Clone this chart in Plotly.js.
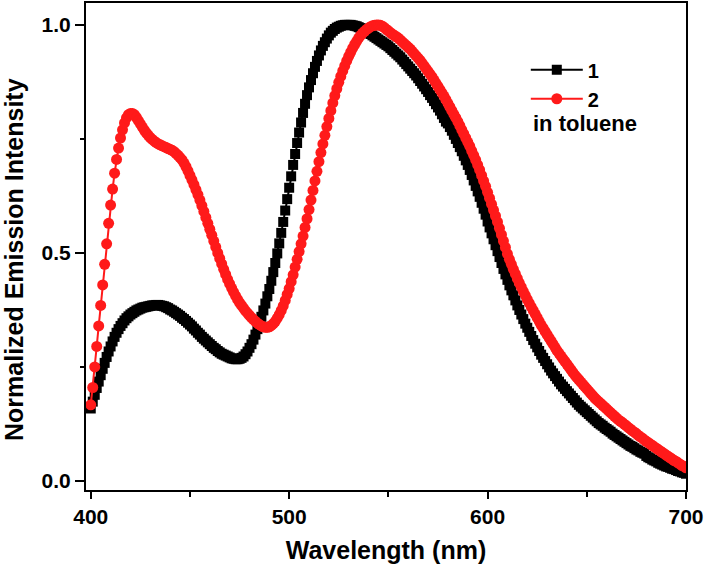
<!DOCTYPE html>
<html>
<head>
<meta charset="utf-8">
<script src="https://cdn.plot.ly/plotly-3.0.1.min.js"></script>
<style>html,body{margin:0;padding:0;background:#fff;}#chart{width:705px;height:570px;}</style>
</head>
<body>
<div id="chart"></div>
<script>
// Wavelength grid (nm), 1 nm sampling from 400 to 700
const wlStart = 400;
const wavelength = Array.from({length: 301}, (_, i) => wlStart + i);

// Series "1" (black squares), normalized emission intensity, 400..700 nm
const intensity1 = [
0.159,0.174,0.189,0.204,0.218,0.232,0.246,0.259,0.272,0.284,
0.295,0.306,0.316,0.325,0.333,0.340,0.346,0.352,0.357,0.361,
0.365,0.368,0.371,0.374,0.376,0.378,0.380,0.381,0.382,0.383,
0.384,0.385,0.385,0.386,0.386,0.385,0.384,0.383,0.381,0.379,
0.376,0.374,0.371,0.368,0.365,0.362,0.358,0.355,0.351,0.347,
0.343,0.339,0.334,0.330,0.325,0.321,0.316,0.312,0.308,0.304,
0.300,0.296,0.292,0.289,0.285,0.282,0.279,0.277,0.275,0.273,
0.271,0.269,0.268,0.267,0.267,0.268,0.270,0.273,0.278,0.284,
0.292,0.300,0.310,0.321,0.333,0.346,0.360,0.374,0.389,0.405,
0.421,0.439,0.458,0.478,0.499,0.521,0.544,0.568,0.593,0.618,
0.643,0.668,0.693,0.717,0.741,0.764,0.786,0.807,0.827,0.846,
0.863,0.879,0.894,0.908,0.921,0.933,0.944,0.954,0.962,0.970,
0.977,0.983,0.987,0.991,0.994,0.996,0.998,0.999,1.000,1.000,
1.000,1.000,0.999,0.998,0.997,0.995,0.993,0.991,0.988,0.985,
0.982,0.980,0.977,0.974,0.971,0.968,0.965,0.962,0.959,0.956,
0.953,0.949,0.945,0.941,0.937,0.933,0.929,0.924,0.919,0.914,
0.909,0.904,0.899,0.894,0.889,0.883,0.877,0.871,0.865,0.859,
0.853,0.846,0.840,0.833,0.826,0.819,0.812,0.804,0.796,0.788,
0.784,0.776,0.768,0.759,0.750,0.741,0.732,0.723,0.713,0.703,
0.693,0.682,0.671,0.659,0.647,0.635,0.623,0.610,0.597,0.584,
0.569,0.556,0.543,0.530,0.517,0.504,0.491,0.478,0.465,0.453,
0.441,0.429,0.418,0.407,0.396,0.385,0.375,0.365,0.355,0.345,
0.336,0.327,0.318,0.309,0.301,0.293,0.285,0.277,0.270,0.263,
0.256,0.249,0.242,0.236,0.230,0.224,0.218,0.212,0.207,0.202,
0.197,0.192,0.187,0.182,0.177,0.172,0.167,0.163,0.159,0.155,
0.151,0.147,0.143,0.139,0.135,0.131,0.127,0.124,0.121,0.117,
0.114,0.111,0.108,0.104,0.101,0.098,0.095,0.092,0.089,0.086,
0.083,0.080,0.077,0.075,0.072,0.069,0.067,0.064,0.062,0.060,
0.055,0.052,0.050,0.047,0.045,0.043,0.040,0.038,0.036,0.034,
0.032,0.031,0.029,0.027,0.026,0.024,0.022,0.021,0.019,0.018,
0.016
];

// Series "2" (red circles), normalized emission intensity, 400..700 nm
const intensity2 = [
0.167,0.205,0.250,0.295,0.340,0.385,0.430,0.475,0.520,0.565,
0.605,0.640,0.675,0.705,0.730,0.752,0.770,0.785,0.796,0.803,
0.806,0.806,0.803,0.797,0.790,0.783,0.776,0.769,0.763,0.758,
0.753,0.749,0.745,0.742,0.739,0.737,0.735,0.733,0.731,0.729,
0.727,0.725,0.722,0.718,0.714,0.709,0.704,0.697,0.689,0.680,
0.670,0.660,0.650,0.639,0.628,0.616,0.604,0.591,0.578,0.565,
0.552,0.539,0.526,0.513,0.500,0.488,0.476,0.464,0.453,0.442,
0.432,0.423,0.414,0.406,0.398,0.391,0.385,0.379,0.373,0.368,
0.363,0.358,0.354,0.350,0.346,0.343,0.340,0.338,0.337,0.337,
0.338,0.341,0.345,0.350,0.357,0.365,0.374,0.384,0.396,0.409,
0.422,0.437,0.452,0.469,0.486,0.503,0.520,0.537,0.556,0.575,
0.595,0.616,0.637,0.658,0.679,0.700,0.720,0.739,0.758,0.777,
0.795,0.812,0.829,0.845,0.860,0.874,0.887,0.899,0.910,0.921,
0.931,0.940,0.949,0.957,0.964,0.971,0.977,0.982,0.986,0.990,
0.993,0.996,0.998,0.999,1.000,1.000,0.999,0.997,0.994,0.990,
0.987,0.983,0.980,0.977,0.974,0.971,0.967,0.963,0.959,0.955,
0.951,0.947,0.942,0.937,0.932,0.927,0.922,0.916,0.910,0.904,
0.898,0.892,0.886,0.879,0.872,0.865,0.858,0.851,0.844,0.836,
0.828,0.820,0.812,0.804,0.796,0.788,0.779,0.770,0.761,0.752,
0.743,0.734,0.724,0.714,0.704,0.693,0.682,0.670,0.658,0.646,
0.633,0.620,0.607,0.594,0.581,0.568,0.554,0.540,0.526,0.512,
0.498,0.486,0.475,0.464,0.454,0.444,0.434,0.425,0.416,0.407,
0.398,0.390,0.382,0.374,0.366,0.358,0.350,0.342,0.335,0.328,
0.321,0.314,0.307,0.300,0.293,0.286,0.280,0.274,0.268,0.262,
0.256,0.250,0.244,0.238,0.232,0.227,0.222,0.217,0.212,0.207,
0.202,0.197,0.192,0.187,0.182,0.178,0.174,0.170,0.166,0.162,
0.158,0.154,0.150,0.146,0.142,0.138,0.134,0.131,0.128,0.124,
0.121,0.117,0.114,0.110,0.107,0.104,0.100,0.097,0.094,0.090,
0.087,0.084,0.081,0.078,0.075,0.072,0.069,0.066,0.063,0.060,
0.057,0.054,0.051,0.048,0.045,0.043,0.040,0.037,0.034,0.032,
0.029
];

const seriesNames = ["1", "2"];
const xTicks = [400, 500, 600, 700];
const xTickText = ["400", "500", "600", "700"];
const yTicks = [0, 0.5, 1.0];
const yTickText = ["0.0", "0.5", "1.0"];
const noteText = "in toluene";
const xTitle = "Wavelength (nm)";
const yTitle = "Normalized Emission Intensity";

const FONT = "Arial, 'Liberation Sans', Helvetica, sans-serif";

const traces = [
  {
    x: wavelength, y: intensity1, name: seriesNames[0],
    type: "scatter", mode: "lines+markers",
    line: {color: "#000000", width: 2},
    marker: {symbol: "square", size: 10, color: "#000000"}
  },
  {
    x: wavelength, y: intensity2, name: seriesNames[1],
    type: "scatter", mode: "lines+markers",
    line: {color: "#ff1a1a", width: 2},
    marker: {symbol: "circle", size: 11, color: "#ff1a1a"}
  }
];

const axisCommon = {
  showline: true, linecolor: "#000", linewidth: 2, mirror: true,
  ticks: "outside", tickcolor: "#000", tickwidth: 2,
  showgrid: false, zeroline: false,
  tickfont: {family: FONT, size: 21, color: "#000", weight: "bold"}
};

const layout = {
  width: 705, height: 570,
  margin: {l: 86, r: 19, t: 3, b: 80, pad: 0},
  paper_bgcolor: "#fff", plot_bgcolor: "#fff",
  font: {family: FONT, color: "#000"},
  showlegend: true,
  legend: {
    x: 0.733, y: 0.903, xanchor: "left", yanchor: "top",
    bgcolor: "rgba(0,0,0,0)", borderwidth: 0,
    font: {family: FONT, size: 20, color: "#000", weight: "bold"},
    itemwidth: 52, tracegroupgap: 0
  },
  xaxis: Object.assign({}, axisCommon, {
    range: [397.6, 700],
    tickmode: "array", tickvals: xTicks, ticktext: xTickText,
    ticklen: 7,
    minor: {dtick: 50, tick0: 400, ticks: "outside", ticklen: 5, tickwidth: 2, tickcolor: "#000", showgrid: false},
    title: {text: xTitle, font: {family: FONT, size: 25, color: "#000", weight: "bold"}, standoff: 14}
  }),
  yaxis: Object.assign({}, axisCommon, {
    range: [-0.0197, 1.048],
    tickmode: "array", tickvals: yTicks, ticktext: yTickText,
    ticklen: 9,
    minor: {dtick: 0.25, tick0: 0, ticks: "outside", ticklen: 4, tickwidth: 2, tickcolor: "#000", showgrid: false}
  }),
  annotations: [
    {
      text: noteText, xref: "paper", yref: "paper",
      x: (531 - 86) / 600, y: 1 - (124 - 3) / 487,
      xanchor: "left", yanchor: "middle", showarrow: false,
      font: {family: FONT, size: 22, color: "#000", weight: "bold"}
    },
    {
      text: yTitle, xref: "paper", yref: "paper",
      x: (14 - 86) / 600, y: 1 - (260 - 3) / 487,
      xanchor: "center", yanchor: "middle", textangle: -90, showarrow: false,
      font: {family: FONT, size: 25, color: "#000", weight: "bold"}
    }
  ]
};

Plotly.newPlot("chart", traces, layout, {displayModeBar: false, staticPlot: true});
</script>
</body>
</html>
